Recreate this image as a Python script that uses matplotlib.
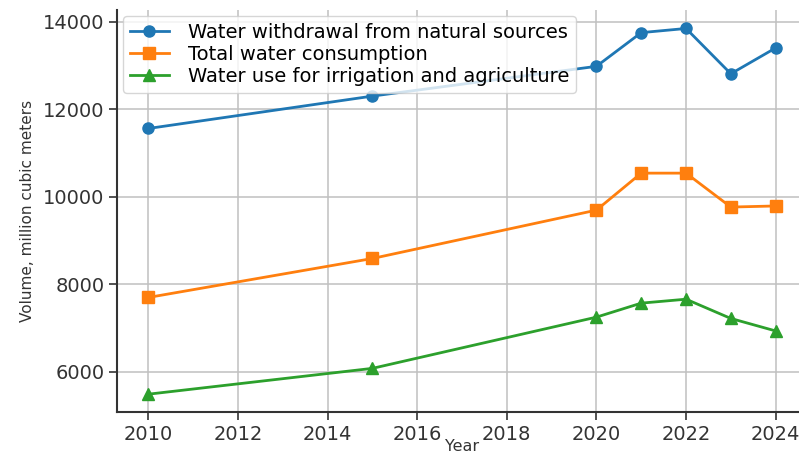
import matplotlib
matplotlib.use("Agg")
import matplotlib.pyplot as plt

years = [2010, 2015, 2020, 2021, 2022, 2023, 2024]
withdrawal = [11560, 12300, 12980, 13750, 13845, 12810, 13400]
consumption = [7700, 8590, 9695, 10540, 10540, 9765, 9790]
irrigation = [5490, 6080, 7250, 7570, 7660, 7220, 6935]
labels = ["Water withdrawal from natural sources",
          "Total water consumption",
          "Water use for irrigation and agriculture"]
xticks = [2010, 2012, 2014, 2016, 2018, 2020, 2022, 2024]
yticks = [6000, 8000, 10000, 12000, 14000]

fig = plt.figure(figsize=(7.99, 4.59), dpi=100)
ax = fig.add_axes([117/799, 47/459, 690/799, 402/459])

lw = 2.0
ms = 8
ax.plot(years, withdrawal, marker="o", color="#1f77b4", lw=lw, ms=ms, label=labels[0])
ax.plot(years, consumption, marker="s", color="#ff7f0e", lw=lw, ms=ms, label=labels[1])
ax.plot(years, irrigation, marker="^", color="#2ca02c", lw=lw, ms=ms, label=labels[2])

ax.set_xlim(2009.3, 2024.7)
ax.set_ylim(5083, 14267)
ax.set_xticks(xticks)
ax.set_yticks(yticks)
ax.tick_params(labelsize=14, length=6, width=1.2, pad=3, colors="#333333", labelcolor="#333333")
ax.grid(True, color="#c0c0c0", linewidth=1.1)
ax.set_axisbelow(True)
for s in ["left", "bottom"]:
    ax.spines[s].set_linewidth(1.5)
    ax.spines[s].set_color("#333333")
ax.spines["top"].set_visible(False)
ax.spines["right"].set_visible(False)

ax.set_xlabel("Year", fontsize=11.5, color="#333333", labelpad=-3)
ax.set_ylabel("Volume, million cubic meters", fontsize=11, color="#333333", labelpad=6)

ax.legend(loc="upper left", fontsize=14, framealpha=0.8, borderaxespad=0.3,
          handlelength=2.0, handletextpad=1.0, labelspacing=0.16,
          borderpad=0.35)

fig.savefig("out.png", dpi=100)
